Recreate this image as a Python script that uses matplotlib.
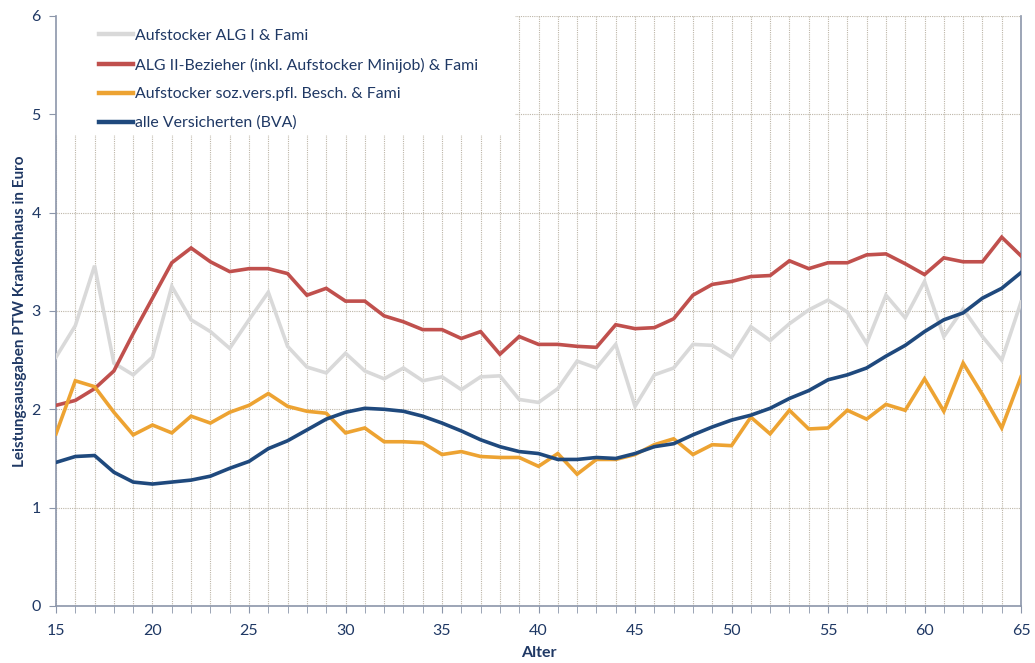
import numpy as np
import matplotlib
matplotlib.use("Agg")
import matplotlib.pyplot as plt
from matplotlib.ticker import MultipleLocator
from matplotlib.patches import Rectangle

plt.rcParams["font.family"] = ["Lato", "DejaVu Sans"]

TEXT = "#1F3864"
GRID = "#BDB6A8"

alter = list(range(15, 66))

alg1_fami = [2.53, 2.85, 3.46, 2.47, 2.35, 2.53, 3.25, 2.91, 2.79, 2.62,
             2.91, 3.19, 2.64, 2.43, 2.37, 2.57, 2.39, 2.31, 2.42, 2.29,
             2.33, 2.20, 2.33, 2.34, 2.10, 2.07, 2.21, 2.49, 2.42, 2.66,
             2.03, 2.35, 2.42, 2.66, 2.65, 2.53, 2.84, 2.70, 2.87, 3.01,
             3.11, 2.99, 2.67, 3.16, 2.93, 3.30, 2.74, 3.02, 2.74, 2.50,
             3.09]

alg2_fami = [2.04, 2.09, 2.21, 2.39, 2.77, 3.13, 3.49, 3.64, 3.50, 3.40,
             3.43, 3.43, 3.38, 3.16, 3.23, 3.10, 3.10, 2.95, 2.89, 2.81,
             2.81, 2.72, 2.79, 2.56, 2.74, 2.66, 2.66, 2.64, 2.63, 2.86,
             2.82, 2.83, 2.92, 3.16, 3.27, 3.30, 3.35, 3.36, 3.51, 3.43,
             3.49, 3.49, 3.57, 3.58, 3.48, 3.37, 3.54, 3.50, 3.50, 3.75,
             3.56]

svb_fami = [1.75, 2.29, 2.23, 1.97, 1.74, 1.84, 1.76, 1.93, 1.86, 1.97,
            2.04, 2.16, 2.03, 1.98, 1.96, 1.76, 1.81, 1.67, 1.67, 1.66,
            1.54, 1.57, 1.52, 1.51, 1.51, 1.42, 1.55, 1.34, 1.49, 1.49,
            1.54, 1.64, 1.70, 1.54, 1.64, 1.63, 1.92, 1.75, 1.99, 1.80,
            1.81, 1.99, 1.90, 2.05, 1.99, 2.31, 1.98, 2.47, 2.15, 1.81,
            2.33]

bva_alle = [1.46, 1.52, 1.53, 1.36, 1.26, 1.24, 1.26, 1.28, 1.32, 1.40,
            1.47, 1.60, 1.68, 1.79, 1.90, 1.97, 2.01, 2.00, 1.98, 1.93,
            1.86, 1.78, 1.69, 1.62, 1.57, 1.55, 1.49, 1.49, 1.51, 1.50,
            1.55, 1.62, 1.65, 1.74, 1.82, 1.89, 1.94, 2.01, 2.11, 2.19,
            2.30, 2.35, 2.42, 2.54, 2.65, 2.79, 2.91, 2.98, 3.13, 3.23,
            3.39]

serien = [
    (alg1_fami, "Aufstocker ALG I & Fami", "#D9D9D9"),
    (alg2_fami, "ALG II-Bezieher (inkl. Aufstocker Minijob) & Fami", "#C0504D"),
    (svb_fami, "Aufstocker soz.vers.pfl. Besch. & Fami", "#EDA332"),
    (bva_alle, "alle Versicherten (BVA)", "#1F497D"),
]

fig = plt.figure(figsize=(10.35, 6.63), dpi=100)
ax = fig.add_axes([0.0541, 0.086, 0.9324, 0.890])

for werte, name, farbe in serien:
    ax.plot(alter, werte, color=farbe, linewidth=2.6, label=name,
            solid_joinstyle="miter", zorder=3)

ax.set_xlim(15, 65)
ax.set_ylim(0, 6)
ax.xaxis.set_major_locator(MultipleLocator(5))
ax.xaxis.set_minor_locator(MultipleLocator(1))
ax.yaxis.set_major_locator(MultipleLocator(1))

ax.grid(True, which="both", axis="x", color=GRID, linestyle=(0, (1, 1)), linewidth=0.8)
ax.grid(True, which="major", axis="y", color=GRID, linestyle=(0, (1, 1)), linewidth=0.8)
ax.set_axisbelow(True)

for side in ["left", "bottom", "right"]:
    ax.spines[side].set_color("#8C96AA")
    ax.spines[side].set_linewidth(1.2)
ax.spines["top"].set_visible(False)

ax.tick_params(axis="both", which="both", direction="out", color="#8C96AA",
               labelcolor=TEXT, labelsize=11.5)
ax.tick_params(axis="x", which="both", length=5, pad=8)
ax.tick_params(axis="y", length=5, pad=6)

ax.set_xlabel("Alter", fontweight="bold", color=TEXT, fontsize=11.5, labelpad=6)
ax.set_ylabel("Leistungsausgaben PTW Krankenhaus in Euro", fontweight="bold",
              color=TEXT, fontsize=11, labelpad=3)

# weisser Hintergrund der Legende
ax.add_patch(Rectangle((0, 0.798), 0.4756, 0.202, transform=ax.transAxes,
                       facecolor="white", edgecolor="none", zorder=2))

leg = ax.legend(loc="upper left", bbox_to_anchor=(0.045, 0.978), frameon=False,
                fontsize=11.4, handlelength=2.1, handletextpad=0.15, labelspacing=0.92,
                borderpad=0.0, borderaxespad=0.0)
for t in leg.get_texts():
    t.set_color(TEXT)
for h in leg.get_lines():
    h.set_linewidth(3.2)

fig.savefig("out.png", dpi=100)
